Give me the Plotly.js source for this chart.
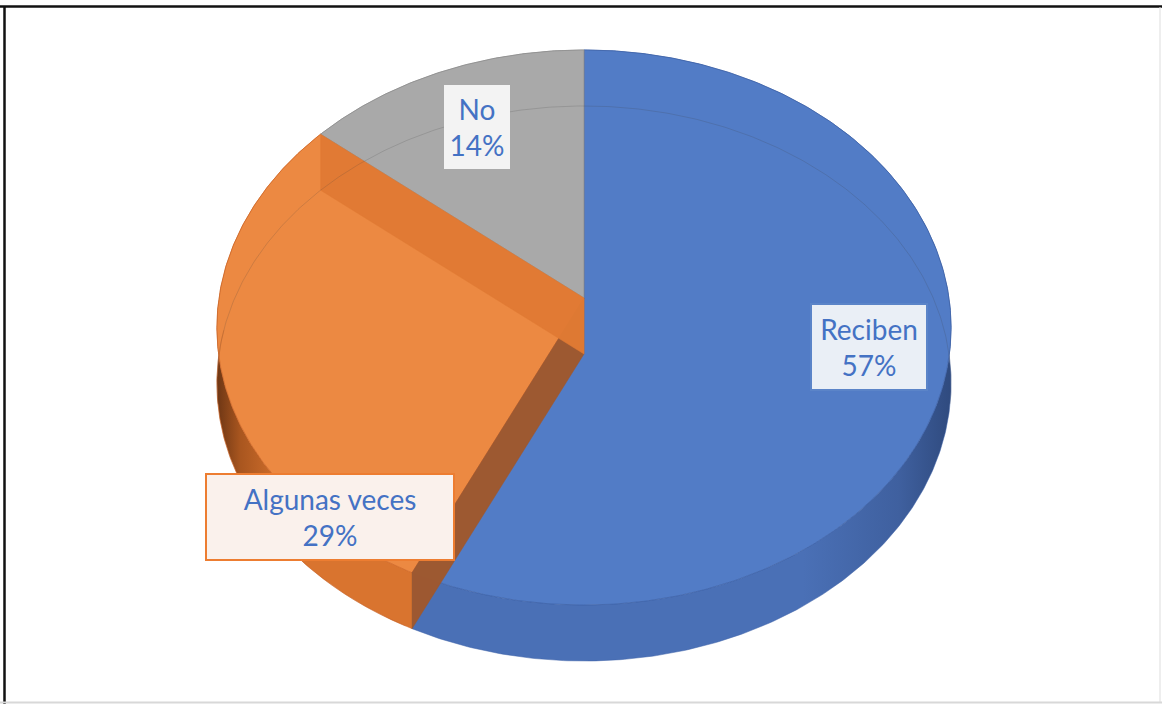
<!DOCTYPE html>
<html>
<head>
<meta charset="utf-8">
<script src="https://cdn.plot.ly/plotly-3.0.1.min.js"></script>
<style>
  html, body { margin: 0; padding: 0; background: #ffffff; }
  #chart { width: 1162px; height: 704px; }
</style>
</head>
<body>
<div id="chart"></div>
<script>
// ---- data ----
const categories = ['Reciben', 'Algunas veces', 'No'];
const values = [57, 29, 14];

// ---- styles ----
const topColors  = ['#527CC6', '#EC8942', '#A9A9A9'];
const sideColors = ['#4A70B6', '#D9742F', '#949494'];
const lineColors = ['#3F63A8', '#D0692A', '#8E8E8E'];
const labelBg     = ['#EAEFF6', '#FAF1EC', '#F3F3F3'];
const labelBorder = ['#5B84C8', '#ED7D31', '#F3F3F3'];

// ---- 3-D projection of the pie (perspective tilt) ----
const CX = 584, CY = 298, RB = 365, RA = 274.4, K = 0.1063, DEPTH = 56;
function pt(theta, h) {
  const s = Math.sin(theta), d = Math.cos(theta), den = 1 + K * d;
  return [CX + RB * s / den, CY - RA * d / den + h * DEPTH];
}
function arc(t1, t2, h) {
  const n = Math.max(8, Math.ceil(Math.abs(t2 - t1) / 0.01));
  const xs = [], ys = [];
  for (let i = 0; i <= n; i++) {
    const p = pt(t1 + (t2 - t1) * i / n, h);
    xs.push(p[0]); ys.push(p[1]);
  }
  return [xs, ys];
}

const total = values.reduce((a, b) => a + b, 0);
const bounds = [0];
values.forEach(v => bounds.push(bounds[bounds.length - 1] + v / total * 2 * Math.PI));

const traces = [];

// side walls
values.forEach((v, i) => {
  const t1 = bounds[i], t2 = bounds[i + 1];
  const top = arc(t1, t2, 0), bot = arc(t2, t1, 1);
  const tr = {
    type: 'scatter', mode: 'lines',
    x: top[0].concat(bot[0]), y: top[1].concat(bot[1]),
    fill: 'toself', fillcolor: sideColors[i],
    line: { color: lineColors[i], width: 0.5 },
    hoverinfo: 'skip', showlegend: false
  };
  if (i === 0) {
    tr.fillgradient = { type: 'horizontal', start: 420, stop: 952,
      colorscale: [[0, '#4A70B6'], [0.72, '#4A70B6'], [0.9, '#3F609F'], [1, '#2F4A7E']] };
  } else if (i === 1) {
    tr.fillgradient = { type: 'horizontal', start: 216, stop: 420,
      colorscale: [[0, '#6B3514'], [0.12, '#A9561F'], [0.35, '#D9742F'], [1, '#D9742F']] };
  }
  traces.push(tr);
});

// top faces
values.forEach((v, i) => {
  const t1 = bounds[i], t2 = bounds[i + 1];
  const a = arc(t1, t2, 0);
  traces.push({
    type: 'scatter', mode: 'lines',
    x: [CX].concat(a[0], [CX]), y: [CY].concat(a[1], [CY]),
    fill: 'toself', fillcolor: topColors[i],
    line: { color: lineColors[i], width: 0.8 },
    hoverinfo: 'skip', showlegend: false
  });
});

// radial cut faces of the middle slice, seen through the translucent pie
function radialFace(theta, color) {
  const o1 = pt(theta, 0), o2 = pt(theta, 1);
  traces.push({
    type: 'scatter', mode: 'lines',
    x: [CX, o1[0], o2[0], CX, CX], y: [CY, o1[1], o2[1], CY + DEPTH, CY],
    fill: 'toself', fillcolor: color,
    line: { color: color, width: 0.5 },
    hoverinfo: 'skip', showlegend: false
  });
}
radialFace(bounds[1], 'rgba(160,88,44,0.97)');
radialFace(bounds[2], 'rgba(224,122,52,0.97)');

// faint outline of the hidden bottom rim
const rim = arc(-1.75, 1.75, 1);
traces.push({
  type: 'scatter', mode: 'lines', x: rim[0], y: rim[1],
  line: { color: 'rgba(60,60,60,0.18)', width: 1 },
  hoverinfo: 'skip', showlegend: false
});
const rimL = arc(3.6, 4.8, 1);
traces.push({
  type: 'scatter', mode: 'lines', x: rimL[0], y: rimL[1],
  line: { color: 'rgba(190,90,30,0.35)', width: 1 },
  hoverinfo: 'skip', showlegend: false
});

// labels
const labelPos = [[869, 347], [330, 517], [477, 127]];
const labelW = [108, 240, 60];
const annotations = categories.map((c, i) => ({
  xref: 'x', yref: 'y', x: labelPos[i][0], y: labelPos[i][1],
  text: c + '<br>' + values[i] + '%',
  showarrow: false,
  font: { family: 'Lato, "Open Sans", sans-serif', size: 28, color: '#4472C4' },
  bgcolor: labelBg[i], bordercolor: labelBorder[i], borderwidth: i === 2 ? 0 : 2,
  borderpad: 3, width: labelW[i], height: 78, align: 'center', valign: 'middle'
}));

const layout = {
  width: 1162, height: 704,
  margin: { l: 0, r: 0, t: 0, b: 0 },
  paper_bgcolor: '#ffffff', plot_bgcolor: '#ffffff',
  xaxis: { range: [0, 1162], visible: false, fixedrange: true },
  yaxis: { range: [704, 0], visible: false, fixedrange: true },
  showlegend: false, hovermode: false,
  annotations: annotations,
  shapes: [
    { type: 'line', xref: 'paper', yref: 'paper', x0: 0, x1: 1, y0: 1 - 6.5 / 704, y1: 1 - 6.5 / 704, line: { color: '#111111', width: 2.5 } },
    { type: 'line', xref: 'paper', yref: 'paper', x0: 4.5 / 1162, x1: 4.5 / 1162, y0: 0, y1: 1 - 6 / 704, line: { color: '#111111', width: 2.5 } },
    { type: 'line', xref: 'paper', yref: 'paper', x0: 1160 / 1162, x1: 1160 / 1162, y0: 2 / 704, y1: 1 - 7 / 704, line: { color: '#DDDDDD', width: 1 } },
    { type: 'line', xref: 'paper', yref: 'paper', x0: 0, x1: 1, y0: 1.5 / 704, y1: 1.5 / 704, line: { color: '#D8D8D8', width: 2 } }
  ]
};

Plotly.newPlot('chart', traces, layout, { displayModeBar: false, staticPlot: true });
</script>
</body>
</html>
